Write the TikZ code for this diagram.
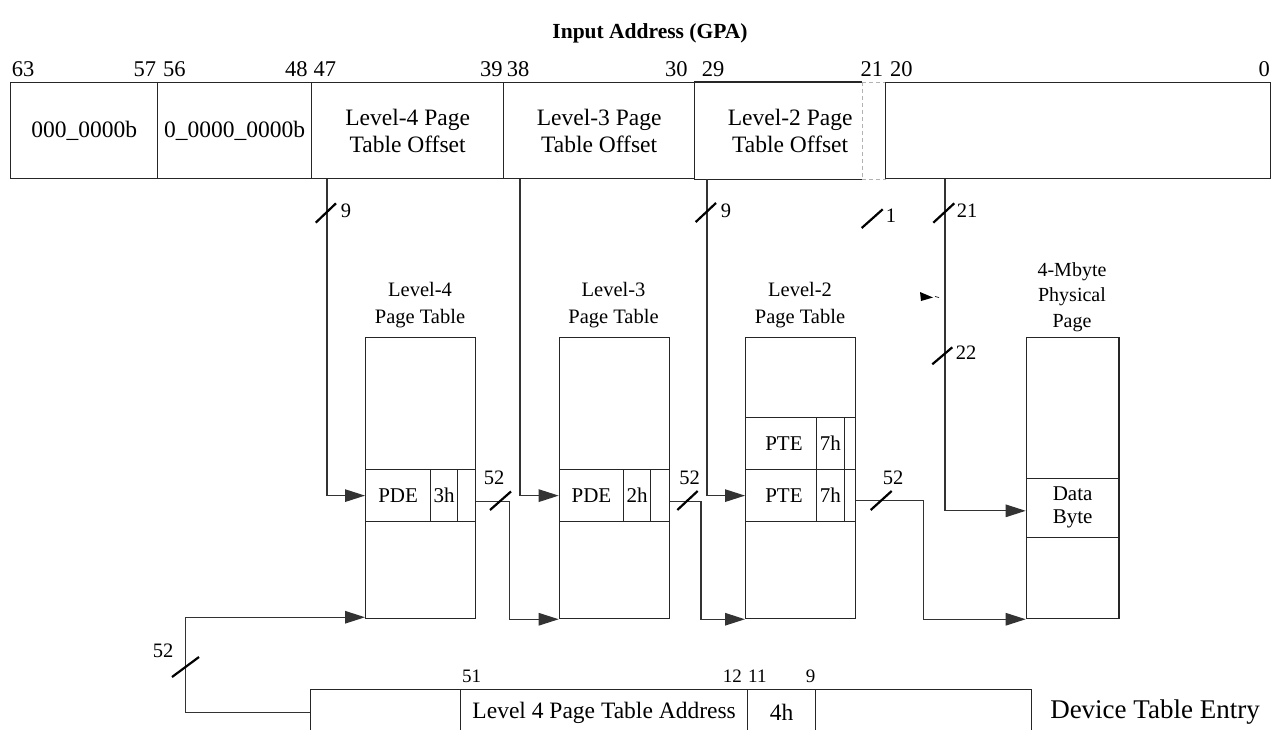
\documentclass[tikz,border=0pt]{standalone}
\usepackage{fontspec}
\setmainfont{Liberation Serif}
\usetikzlibrary{arrows.meta,calc}
\begin{document}
\begin{tikzpicture}[x=1pt,y=-1pt,
  box/.style={draw=black!85,line width=1.25pt,inner sep=0pt,anchor=north west,font=\fontsize{23.5}{27}\selectfont,align=center},
  cell/.style={box,font=\fontsize{21}{25}\selectfont},
  conn/.style={line width=1.2pt,draw=black!80},
  arr/.style={conn,-{Triangle[length=20pt,width=12.5pt]}},
  slashmark/.style={line width=2.2pt,black},
  lbl/.style={inner sep=0pt,font=\fontsize{20.5}{24}\selectfont},
  bit/.style={inner sep=0pt,font=\fontsize{22.5}{26}\selectfont},
  dbit/.style={inner sep=0pt,font=\fontsize{19}{22}\selectfont},
  head/.style={inner sep=0pt,align=center,font=\fontsize{20.5}{26.5}\selectfont},
]
\useasboundingbox (0,0) rectangle (1271,730);
\clip (0,0) rectangle (1271,730);

% title
\node[inner sep=0pt,font=\bfseries\fontsize{21.5}{25}\selectfont] (title) at (650,33) {Input Address (GPA)};

% bit numbers
\node[bit,anchor=base west] (b63) at (11.7,77) {63};
\node[bit,anchor=base west] (b57) at (133.3,77) {57};
\node[bit,anchor=base west] (b56) at (163,77) {56};
\node[bit,anchor=base west] (b48) at (285,77) {48};
\node[bit,anchor=base west] (b47) at (313.3,77) {47};
\node[bit,anchor=base west] (b39) at (480,77) {39};
\node[bit,anchor=base west] (b38) at (506.7,77) {38};
\node[bit,anchor=base west] (b30) at (665,77) {30};
\node[bit,anchor=base west] (b29) at (701.7,77) {29};
\node[bit,anchor=base west] (b21) at (860.5,77) {21};
\node[bit,anchor=base west] (b20) at (890,77) {20};
\node[bit,anchor=base east] (b0) at (1270,77) {0};

% top bar
\node[box,minimum width=147pt,minimum height=96pt] (s1) at (10,82) {000\_0000b};
\node[box,minimum width=154pt,minimum height=96pt] (s2) at (157,82) {0\_0000\_0000b};
\node[box,minimum width=192pt,minimum height=96pt] (s3) at (311,82) {Level-4 Page\\Table Offset};
\node[box,minimum width=191pt,minimum height=96pt] (s4) at (503,82) {Level-3 Page\\Table Offset};
\node[box,draw=none,minimum width=191pt,minimum height=96pt] (s5) at (694,82) {Level-2 Page\\Table Offset};
\draw[draw=black!85,line width=1.25pt] ([xshift=168pt]s5.north west) -- (s5.north west)
  (s5.south west) -- ([xshift=168pt]s5.south west);
\draw[draw=black!30,line width=0.8pt,dash pattern=on 4pt off 3pt] ([xshift=168pt]s5.north west) -- (s5.north east)
  ([xshift=168pt]s5.south west) -- (s5.south east)
  ([xshift=168pt]s5.north west) -- ([xshift=168pt]s5.south west);
\node[box,minimum width=385pt,minimum height=96pt] (s6) at (885,82) {};

% table headings
\node[head] (h4) at (420,305) {Level-4\\Page Table};
\node[head] (h3) at (613.5,305) {Level-3\\Page Table};
\node[head] (h2) at (800,305) {Level-2\\Page Table};
\node[head,font=\fontsize{20}{25.5}\selectfont] (hp) at (1072,297) {4-Mbyte\\Physical\\Page};

% level-4 table
\node[box,minimum width=110pt,minimum height=281pt] (L4) at (365,337) {};
\node[cell,minimum width=65pt,minimum height=52pt] (p4a) at (365,469) {PDE};
\node[cell,minimum width=27pt,minimum height=52pt] (p4b) at (430,469) {3h};
\node[cell,minimum width=18pt,minimum height=52pt] (p4c) at (457,469) {};

% level-3 table
\node[box,minimum width=110pt,minimum height=281pt] (L3) at (558.7,337) {};
\node[cell,minimum width=64.3pt,minimum height=52pt] (p3a) at (558.7,469) {PDE};
\node[cell,minimum width=27pt,minimum height=52pt] (p3b) at (623,469) {2h};
\node[cell,minimum width=18.7pt,minimum height=52pt] (p3c) at (650,469) {};

% level-2 table
\node[box,minimum width=110pt,minimum height=281pt] (L2) at (745,337) {};
\node[cell,minimum width=70.7pt,minimum height=52pt] (t2a) at (745,417) {\hspace*{6pt}PTE};
\node[cell,minimum width=28pt,minimum height=52pt] (t2b) at (815.7,417) {7h};
\node[cell,minimum width=11.3pt,minimum height=52pt] (t2c) at (843.7,417) {};
\node[cell,minimum width=70.7pt,minimum height=52pt] (u2a) at (745,469) {\hspace*{6pt}PTE};
\node[cell,minimum width=28pt,minimum height=52pt] (u2b) at (815.7,469) {7h};
\node[cell,minimum width=11.3pt,minimum height=52pt] (u2c) at (843.7,469) {};

% physical page
\node[box,minimum width=92.6pt,minimum height=281pt] (P) at (1025.7,337) {};
\node[cell,minimum width=92.6pt,minimum height=59pt,font=\fontsize{21}{23}\selectfont] (data) at (1025.7,477.7) {Data\\Byte};

% device table entry
\node[box,minimum width=150pt,minimum height=46pt] (d1) at (310,689) {};
\node[box,minimum width=287pt,minimum height=46pt] (d2) at (460,689) {Level 4 Page Table Address};
\node[box,minimum width=68pt,minimum height=46pt] (d3) at (747,689) {4h};
\node[box,minimum width=216pt,minimum height=46pt] (d4) at (815,689) {};
\node[inner sep=0pt,font=\fontsize{27}{30}\selectfont] (dte) at (1155,712) {Device Table Entry};
\node[dbit,anchor=base west] (e51) at (462,682) {51};
\node[dbit,anchor=base east] (e12) at (742,682) {12};
\node[dbit,anchor=base west] (e11) at (748,682) {11};
\node[dbit,anchor=base east] (e9) at (815.5,682) {9};

% connectors from the address
\draw[arr] ($(s3.south west)+(16,0)$) |- (p4a.west);
\draw[arr] ($(s4.south west)+(17,0)$) |- (p3a.west);
\draw[arr] ($(s5.south west)+(13,0)$) |- (u2a.west);
\draw[arr] ($(s6.south west)+(60,0)$) |- ($(data.west)+(0,3)$);

% table to table
\draw[arr] ($(p4c.east)+(0,6)$) -- ++(33,0) |- (L3.south west);
\draw[arr] ($(p3c.east)+(0,6)$) -- ++(31,0) |- (L2.south west);
\draw[arr] ($(u2c.east)+(0,5)$) -- ++(67,0) |- (P.south west);
\draw[arr] (d1.west) -- ++(-124.5,0) |- ($(L4.south west)+(0,-2)$);

% slash marks
\draw[slashmark] (315.7,222.7) -- (336,203.3);
\draw[slashmark] (695.7,222) -- (716,203);
\draw[slashmark] (861.7,228) -- (882.7,209.3);
\draw[slashmark] (933.3,222.7) -- (954.3,203.3);
\draw[slashmark] (932.3,364.3) -- (952.3,347.3);
\draw[slashmark] (490,510) -- (511,491.5);
\draw[slashmark] (677.3,510) -- (697.7,491);
\draw[slashmark] (870.7,510) -- (891.7,491);
\draw[slashmark] (172,677) -- (199,657);

% slash labels
\node[lbl] (n9a) at (346,211) {9};
\node[lbl] (n9b) at (726,211) {9};
\node[lbl] (n1) at (891,216) {1};
\node[lbl] (n21) at (967,211) {21};
\node[lbl] (n22) at (966,353) {22};
\node[lbl] (n52a) at (494,478) {52};
\node[lbl] (n52b) at (689.5,478) {52};
\node[lbl] (n52c) at (893,478) {52};
\node[lbl] (n52d) at (163,651) {52};

% small stray mark
\fill[black] (920,292) -- (933,297.5) -- (921,301) -- cycle;
\draw[line width=0.7pt] (935,296.5) -- (939,297.5);
\end{tikzpicture}
\end{document}
